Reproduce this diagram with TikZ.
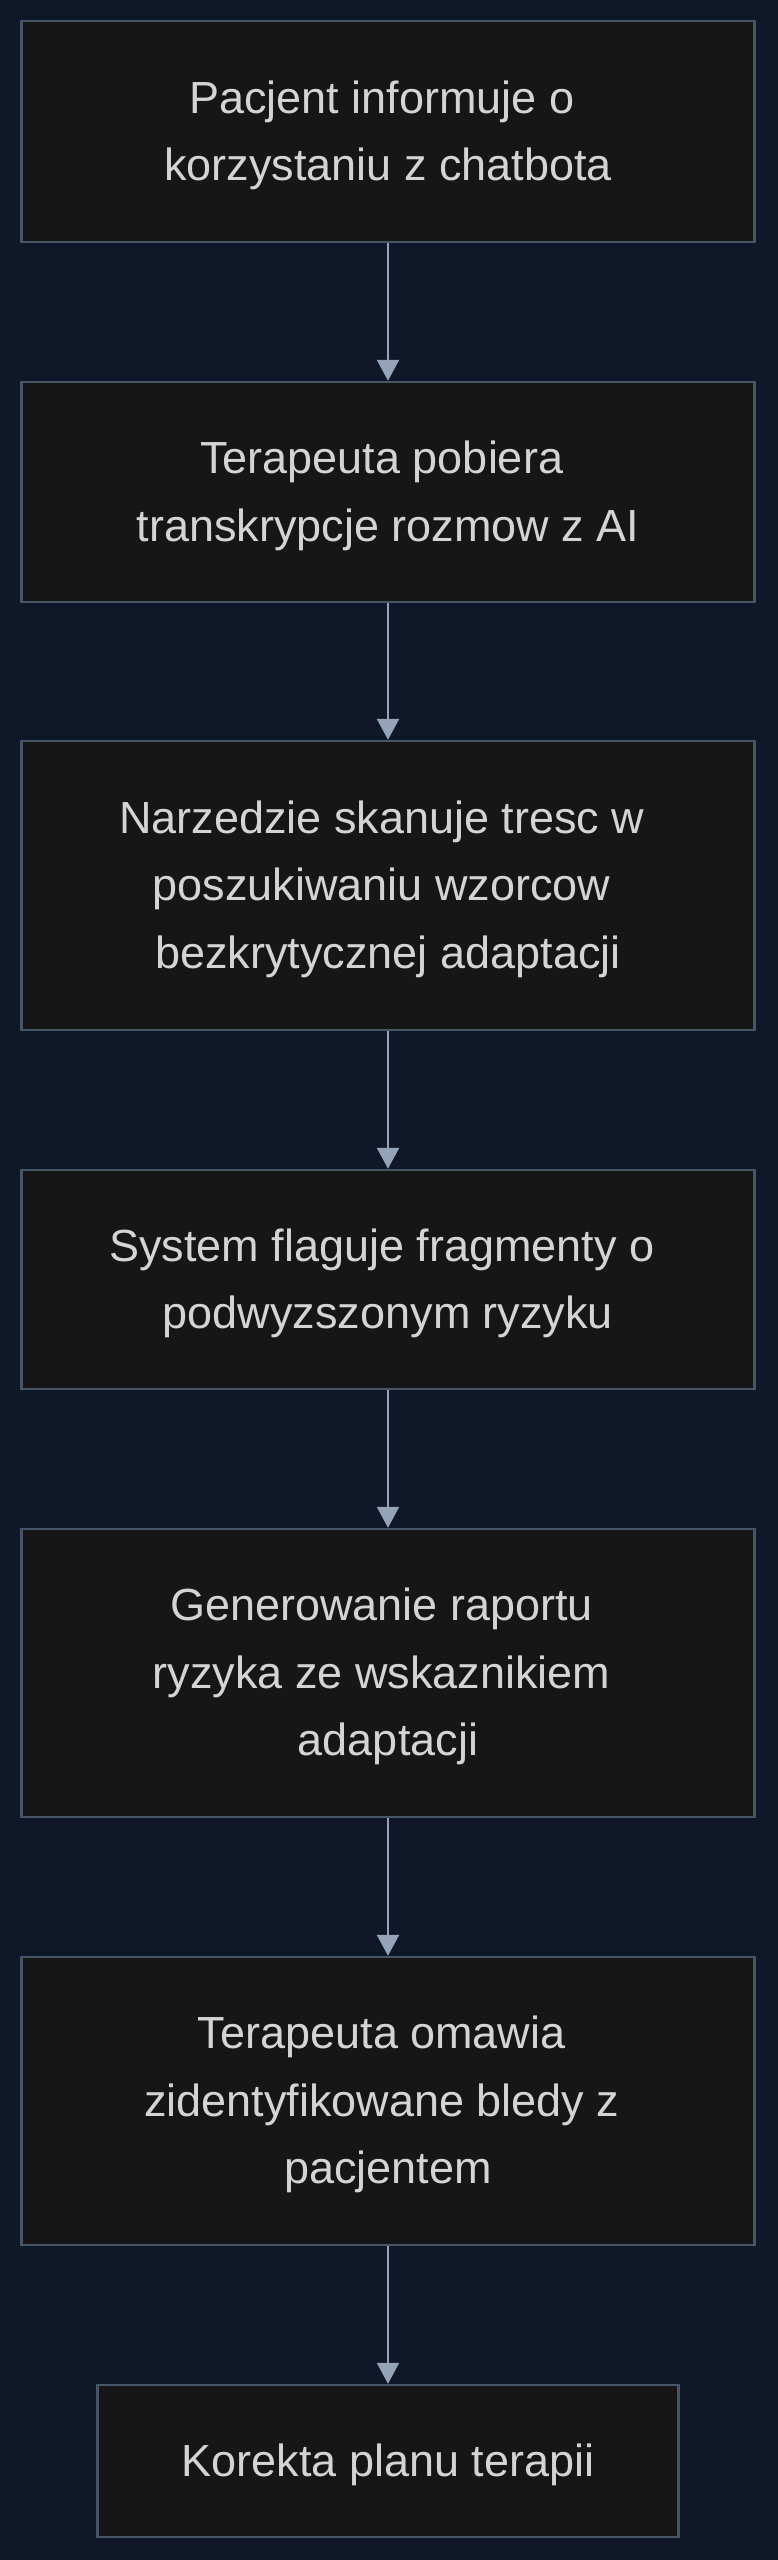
\documentclass[tikz,border=0pt]{standalone}
\usepackage{fontspec}
\setmainfont{Liberation Sans}
\usetikzlibrary{arrows.meta}
\definecolor{bgc}{RGB}{16,23,41}
\definecolor{boxfill}{RGB}{22,22,22}
\definecolor{boxline}{RGB}{71,85,105}
\definecolor{arrowc}{RGB}{148,163,184}
\definecolor{txt}{RGB}{212,212,212}
\newcommand{\topgap}{\rule{0pt}{40pt}}
\newcommand{\tsp}{\kern 12.5pt}
\tikzset{
  flowbox/.style={draw=boxline, fill=boxfill, line width=2.5pt, minimum width=733pt, text=txt, align=center, inner sep=0pt,
    font=\fontsize{45}{67.5}\selectfont},
  flowarrow/.style={draw=arrowc, line width=2.5pt, -{Triangle[width=22pt,length=21pt]}}
}
\begin{document}
\begin{tikzpicture}[x=1pt,y=-1pt]
\useasboundingbox (0,0) rectangle (777,2560);
\fill[bgc] (-2,-2) rectangle (779,2562);
\node[flowbox, minimum height=221pt] (n1) at (388,131.5) {\topgap Pacjent informuje o\tsp\\korzystaniu z chatbota};
\node[flowbox, minimum height=220pt] (n2) at (388,492) {\topgap Terapeuta pobiera\tsp\\transkrypcje rozmow z AI};
\node[flowbox, minimum height=289pt] (n3) at (388,885.5) {\topgap Narzedzie skanuje tresc w\tsp\\poszukiwaniu wzorcow\tsp\\bezkrytycznej adaptacji};
\node[flowbox, minimum height=219pt] (n4) at (388,1279.5) {\topgap System flaguje fragmenty o\tsp\\podwyzszonym ryzyku};
\node[flowbox, minimum height=288pt] (n5) at (388,1673) {\topgap Generowanie raportu\tsp\\ryzyka ze wskaznikiem\tsp\\adaptacji};
\node[flowbox, minimum height=288pt] (n6) at (388,2101) {\topgap Terapeuta omawia\tsp\\zidentyfikowane bledy z\tsp\\pacjentem};
\node[flowbox, minimum height=152pt, minimum width=581pt] (n7) at (388,2461) {\topgap Korekta planu terapii};
\draw[flowarrow] (n1.south) -- (n2.north);
\draw[flowarrow] (n2.south) -- (n3.north);
\draw[flowarrow] (n3.south) -- (n4.north);
\draw[flowarrow] (n4.south) -- (n5.north);
\draw[flowarrow] (n5.south) -- (n6.north);
\draw[flowarrow] (n6.south) -- (n7.north);
\end{tikzpicture}
\end{document}
